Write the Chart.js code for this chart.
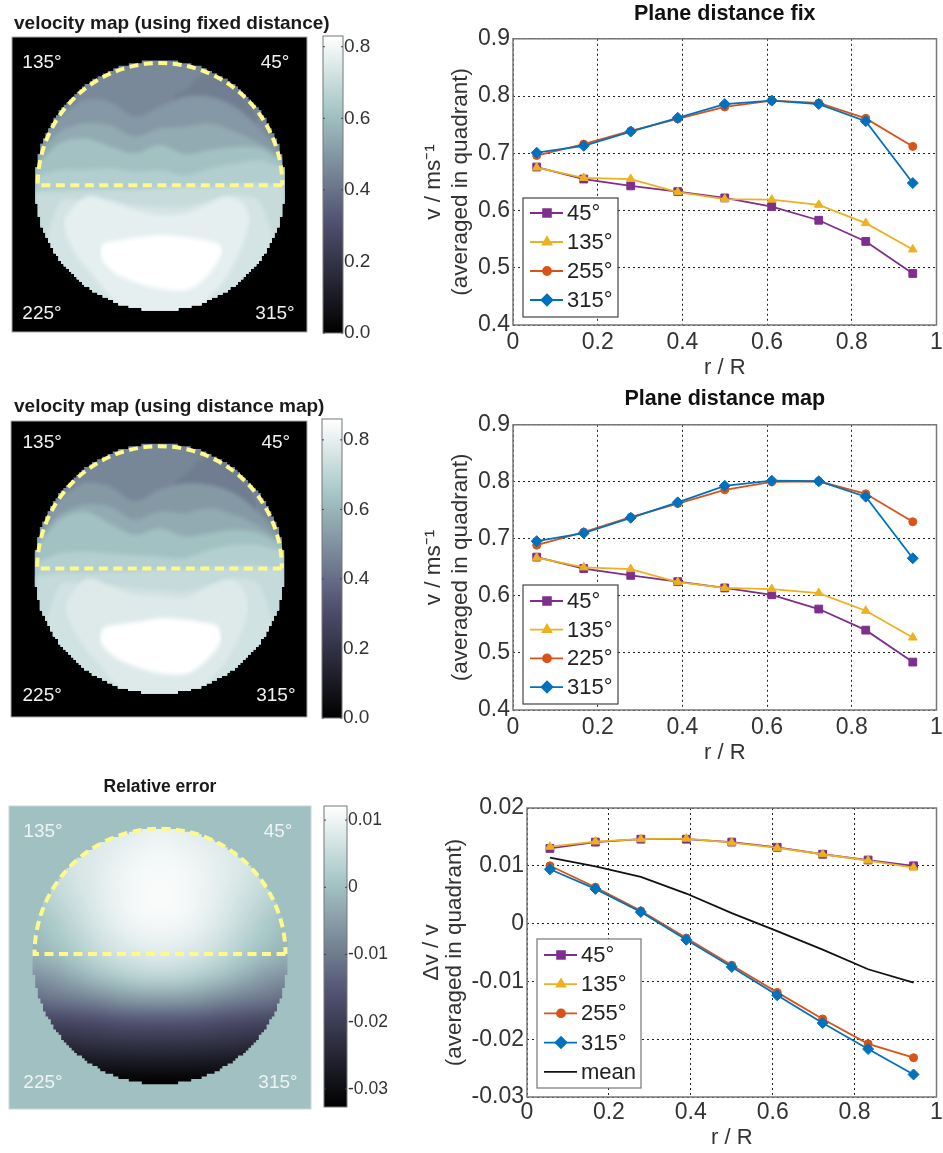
<!DOCTYPE html>
<html>
<head>
<meta charset="utf-8">
<title>Velocity maps</title>
<script src="https://cdn.jsdelivr.net/npm/chart.js@4"></script>
<style>
    html, body { margin: 0; padding: 0; background: #fff; }
    body { position: relative; width: 943px; height: 1153px; overflow: hidden; }
    canvas { position: absolute; }
</style>
</head>
<body>
<canvas id="mapFix" width="335" height="345" style="left:0;top:0"></canvas>
<canvas id="barFix" width="95" height="355" style="left:318px;top:0"></canvas>
<canvas id="lineFix" width="523" height="385" style="left:420px;top:0"></canvas>
<canvas id="mapDist" width="335" height="335" style="left:0;top:390px"></canvas>
<canvas id="barDist" width="95" height="345" style="left:318px;top:390px"></canvas>
<canvas id="lineDist" width="523" height="385" style="left:420px;top:385px"></canvas>
<canvas id="mapErr" width="335" height="345" style="left:0;top:770px"></canvas>
<canvas id="barErr" width="95" height="355" style="left:318px;top:770px"></canvas>
<canvas id="lineErr" width="523" height="373" style="left:420px;top:780px"></canvas>
<script>
// ===========================
// DATA
// ===========================

const radiusRatio = [0.056, 0.167, 0.278, 0.389, 0.5, 0.611, 0.722, 0.833, 0.944];
const rTicks = [0, 0.2, 0.4, 0.6, 0.8, 1];

// Plane distance fix
const fixTicks = [0.4, 0.5, 0.6, 0.7, 0.8, 0.9];
const fixLabels = ['45°', '135°', '255°', '315°'];
const fix45 = [0.676, 0.655, 0.643, 0.633, 0.622, 0.607, 0.583, 0.546, 0.490];
const fix135 = [0.675, 0.657, 0.655, 0.632, 0.620, 0.619, 0.610, 0.578, 0.532];
const fix255 = [0.696, 0.716, 0.739, 0.760, 0.781, 0.792, 0.788, 0.761, 0.712];
const fix315 = [0.701, 0.713, 0.738, 0.762, 0.786, 0.792, 0.786, 0.756, 0.648];

// Plane distance map
const distLabels = ['45°', '135°', '225°', '315°'];
const dist45 = [0.668, 0.648, 0.636, 0.625, 0.614, 0.602, 0.577, 0.540, 0.484];
const dist135 = [0.667, 0.650, 0.647, 0.624, 0.614, 0.612, 0.605, 0.574, 0.527];
const dist225 = [0.689, 0.712, 0.738, 0.762, 0.786, 0.800, 0.801, 0.779, 0.730];
const dist315 = [0.696, 0.710, 0.737, 0.764, 0.793, 0.802, 0.801, 0.774, 0.666];

// Relative error per quadrant
const errTicks = [-0.03, -0.02, -0.01, 0, 0.01, 0.02];
const errLabels = ['45°', '135°', '255°', '315°', 'mean'];
const err45 = [0.0130, 0.0141, 0.0146, 0.0146, 0.0141, 0.0132, 0.0120, 0.0110, 0.0100];
const err135 = [0.0133, 0.0142, 0.0146, 0.0147, 0.0140, 0.0131, 0.0120, 0.0109, 0.0097];
const err255 = [0.0100, 0.0063, 0.0022, -0.0025, -0.0072, -0.0119, -0.0165, -0.0208, -0.0232];
const err315 = [0.0094, 0.0060, 0.0020, -0.0028, -0.0075, -0.0124, -0.0172, -0.0217, -0.0261];
const errMean = [0.0114, 0.0099, 0.0081, 0.0052, 0.0018, -0.0013, -0.0045, -0.0079, -0.0102];

// Colour bars
const fixBarTicks = [0, 0.2, 0.4, 0.6, 0.8];
const fixBarLabels = ['0.0', '0.2', '0.4', '0.6', '0.8'];
const distBarTicks = [0, 0.2, 0.4, 0.6, 0.8];
const distBarLabels = ['0.0', '0.2', '0.4', '0.6', '0.8'];
const errBarTicks = [-0.03, -0.02, -0.01, 0, 0.01];
const errBarLabels = ['-0.03', '-0.02', '-0.01', '0', '0.01'];

const quadrantNames = ['135°', '45°', '225°', '315°'];

// Velocity contours. Circle radius is 375 units, centre is 0,0.
const bandX = [-375, -300, -225, -150, -75, 0, 75, 150, 225, 300, 375];

const fixLevels = [0.46, 0.43, 0.50, 0.55, 0.61, 0.65, 0.70, 0.73, 0.77, 0.77, 0.83, 0.83];
const fixTopY = [400, 400, 400, 400, 400, 400, 400, 400, 400, 400, 400];
const fixDarkX = [40, 80, 110, 150, 200, 250, 290];
const fixDarkY = [266, 286, 321, 341, 331, 276, 206];
const fixEdge2 = [136, 206, 256, 251, 206, 236, 266, 266, 236, 171, 86];
const fixEdge3 = [86, 161, 186, 181, 146, 171, 176, 186, 161, 126, 76];
const fixEdge4 = [56, 126, 141, 116, 96, 121, 94, 106, 116, 111, 66];
const fixEdge5 = [26, 46, 46, 51, 41, 46, 31, 51, 66, 76, 51];
const fixEdge6 = [-19, -19, -14, -14, -14, -9, -4, -4, 1, 6, -4];
const fixEdge7 = [-300, -50, -44, -44, -59, -64, -64, -44, -29, -50, -300];
const fixLightTopX = [-290, -250, -210, -150, -75, 0, 75, 150, 200, 250, 270];
const fixLightTopY = [-104, -54, -32, -49, -74, -89, -84, -54, -34, -54, -104];
const fixLightLowX = [-290, -275, -240, -190, -140, -80, 0, 80, 140, 200, 250, 270];
const fixLightLowY = [-104, -164, -224, -284, -344, -394, -444, -404, -344, -274, -174, -104];
const fixWhiteX = [-180, -170, -130, -60, 0, 80, 130, 170, 188];
const fixWhiteTopY = [-194, -174, -166, -156, -149, -156, -164, -174, -194];
const fixWhiteLowY = [-194, -229, -266, -296, -310, -314, -284, -234, -194];

const distLevels = [0.47, 0.44, 0.52, 0.57, 0.63, 0.68, 0.72, 0.75, 0.78, 0.78, 0.86, 0.86];
const distTopY = [400, 400, 400, 400, 400, 400, 400, 400, 400, 400, 400];
const distDarkX = [40, 80, 110, 150, 200, 250, 290];
const distDarkY = [256, 281, 316, 336, 326, 271, 201];
const distEdge2 = [136, 206, 256, 246, 201, 236, 256, 251, 226, 166, 86];
const distEdge3 = [86, 161, 191, 186, 146, 171, 166, 181, 161, 126, 76];
const distEdge4 = [56, 146, 171, 136, 101, 121, 96, 106, 116, 106, 66];
const distEdge5 = [16, 46, 51, 46, 41, 36, 31, 56, 71, 71, 46];
const distEdge6 = [-24, -14, -14, -9, -9, -4, -4, 1, 6, 6, -4];
const distEdge7 = [-300, -50, -44, -49, -59, -64, -69, -49, -29, -50, -300];
const distLightTopX = [-283, -263, -213, -148, -73, 2, 77, 152, 212, 252, 267];
const distLightTopY = [-114, -74, -29, -54, -79, -84, -89, -54, -34, -64, -114];
const distLightLowX = [-283, -268, -233, -183, -133, -73, 2, 82, 142, 202, 252, 267];
const distLightLowY = [-114, -164, -224, -284, -344, -394, -444, -404, -344, -274, -174, -114];
const distWhiteX = [-180, -168, -128, -58, 2, 82, 132, 172, 187];
const distWhiteTopY = [-209, -179, -169, -159, -149, -154, -162, -172, -209];
const distWhiteLowY = [-209, -234, -269, -299, -314, -316, -284, -239, -209];

// Relative error map in units of 1e-4, rows from top to bottom
const errGridX = [-375, -312.5, -250, -187.5, -125, -62.5, 0, 62.5, 125, 187.5, 250, 312.5, 375];
const errGridY = [375, 312.5, 250, 187.5, 125, 62.5, 0, -62.5, -125, -187.5, -250, -312.5, -375];
const errRow0 = [60, 65, 70, 75, 80, 88, 95, 88, 80, 75, 70, 65, 60];
const errRow1 = [55, 62, 70, 80, 90, 100, 105, 100, 92, 82, 72, 62, 55];
const errRow2 = [45, 55, 68, 82, 97, 108, 112, 108, 98, 85, 70, 55, 45];
const errRow3 = [25, 42, 62, 82, 98, 110, 115, 110, 98, 82, 62, 42, 25];
const errRow4 = [5, 25, 50, 75, 95, 108, 112, 108, 95, 75, 50, 25, 5];
const errRow5 = [-10, 10, 35, 62, 82, 95, 100, 95, 82, 62, 35, 10, -10];
const errRow6 = [-25, -8, 15, 40, 60, 72, 78, 72, 60, 40, 15, -8, -25];
const errRow7 = [-70, -55, -30, -5, 15, 30, 35, 30, 15, -5, -30, -55, -70];
const errRow8 = [-120, -105, -95, -80, -62, -52, -50, -52, -62, -80, -95, -105, -120];
const errRow9 = [-190, -180, -172, -165, -155, -150, -150, -150, -155, -165, -172, -180, -190];
const errRow10 = [-245, -235, -228, -222, -218, -215, -215, -215, -218, -222, -228, -235, -245];
const errRow11 = [-295, -290, -285, -280, -278, -276, -275, -276, -278, -280, -285, -290, -295];
const errRow12 = [-327, -327, -327, -327, -327, -327, -327, -327, -327, -327, -327, -327, -327];

// ===========================
// COLOURS
// ===========================

const boneStops = [[0, 0, 0, 0], [0.375, 81, 81, 113], [0.75, 166, 198, 198], [1, 255, 255, 255]];

function boneRgb(t) {
    t = Math.max(0, Math.min(1, t));
    for (let i = 1; i < boneStops.length; i++) {
        const a = boneStops[i - 1], b = boneStops[i];
        if (t <= b[0]) {
            const f = (t - a[0]) / (b[0] - a[0]);
            return [1, 2, 3].map(k => Math.round(a[k] + f * (b[k] - a[k])));
        }
    }
    return [255, 255, 255];
}

function boneCss(t) {
    return 'rgb(' + boneRgb(t).join(',') + ')';
}

const seriesColors = ['#7E2F8E', '#EDB120', '#D95319', '#0072BD', '#111111'];
const seriesMarkers = ['rect', 'triangle', 'circle', 'rectRot', false];
const markerSizes = [5.5, 5, 4, 5.5, 0];
const FONT = '"Liberation Sans", Arial, sans-serif';

Chart.defaults.font.family = FONT;
Chart.defaults.animation = false;
Chart.defaults.responsive = false;

// ===========================
// PLUGINS
// ===========================

/**
 * Draws the frame and the boxed legend of a line chart
 */
const lineFramePlugin = {
    id: 'lineFrame',
    afterDatasetsDraw(chart, args, opts) {
        const { ctx, chartArea: a } = chart;
        ctx.save();
        ctx.strokeStyle = '#777';
        ctx.lineWidth = 1.5;
        ctx.strokeRect(a.left, a.top, a.right - a.left, a.bottom - a.top);

        ctx.fillStyle = '#fff';
        ctx.fillRect(opts.left, opts.top, opts.width, opts.height);
        ctx.strokeStyle = opts.color;
        ctx.lineWidth = 1.2;
        ctx.strokeRect(opts.left, opts.top, opts.width, opts.height);

        chart.data.datasets.forEach((ds, i) => {
            const y = opts.firstRow + i * opts.rowHeight;
            ctx.strokeStyle = ds.borderColor;
            ctx.lineWidth = 1.8;
            ctx.beginPath();
            ctx.moveTo(opts.left + 7, y);
            ctx.lineTo(opts.left + 40, y);
            ctx.stroke();
            if (ds.pointStyle) {
                ctx.fillStyle = ds.borderColor;
                Chart.helpers.drawPoint(ctx, { pointStyle: ds.pointStyle, radius: ds.pointRadius, rotation: 0, borderWidth: 1 }, opts.left + 24, y);
            }
            ctx.fillStyle = '#222';
            ctx.font = '22px ' + FONT;
            ctx.textAlign = 'left';
            ctx.textBaseline = 'middle';
            ctx.fillText(ds.label, opts.left + 44, y + 1);
        });
        ctx.restore();
    }
};

/**
 * Background, stepped circular clip, heat cells, dashed dome, quadrant names and title of a map
 */
const mapPanelPlugin = {
    id: 'mapPanel',
    beforeDatasetsDraw(chart, args, opts) {
        const { ctx, chartArea: a, scales: { x, y } } = chart;
        ctx.save();
        ctx.fillStyle = opts.background;
        ctx.fillRect(a.left, a.top, a.right - a.left, a.bottom - a.top);

        // the map is a pixel grid, so its rim is stepped
        const cx = x.getPixelForValue(0);
        const cy = y.getPixelForValue(0);
        const r = x.getPixelForValue(375) - cx;
        const step = 2.6;
        const rows = Math.ceil(r / step);
        ctx.beginPath();
        for (let i = -rows; i < rows; i++) {
            const mid = (i + 0.5) * step;
            const half = Math.round(Math.sqrt(Math.max(0, r * r - mid * mid)) / step) * step;
            ctx.rect(cx - half, cy + i * step, half * 2, step + 0.3);
        }
        ctx.clip();

        if (opts.cells) {
            // cells go into a small bitmap, one pixel per cell, the upscale smooths them
            const n = errGridX.length;
            const off = document.createElement('canvas');
            off.width = n;
            off.height = errGridY.length;
            const g = off.getContext('2d');
            opts.cells.forEach((row, r) => row.forEach((v, c) => {
                g.fillStyle = boneCss((v + 327) / 448);
                g.fillRect(c, r, 1, 1);
            }));
            const half = (errGridX[1] - errGridX[0]) / 2;
            const x0 = x.getPixelForValue(errGridX[0] - half);
            const x1 = x.getPixelForValue(errGridX[n - 1] + half);
            const y0 = y.getPixelForValue(errGridY[0] + half);
            const y1 = y.getPixelForValue(errGridY[errGridY.length - 1] - half);
            ctx.imageSmoothingEnabled = true;
            ctx.imageSmoothingQuality = 'high';
            ctx.drawImage(off, x0, y0, x1 - x0, y1 - y0);
        } else {
            // soft contour edges, as in the original map
            ctx.filter = 'blur(2.2px)';
        }
    },
    afterDatasetsDraw(chart, args, opts) {
        const { ctx, chartArea: a, scales: { x, y } } = chart;
        ctx.restore();
        ctx.save();

        // dashed dome over the upper half
        const cx = x.getPixelForValue(0);
        const cy = y.getPixelForValue(opts.domeY);
        const r = x.getPixelForValue(opts.domeRadius) - cx;
        ctx.strokeStyle = '#FDF98C';
        ctx.lineWidth = 4;
        ctx.setLineDash([9, 5.5]);
        ctx.beginPath();
        ctx.moveTo(cx + r, cy);
        ctx.lineTo(cx - r, cy);
        ctx.arc(cx, cy, r, Math.PI, 0);
        ctx.stroke();
        ctx.setLineDash([]);

        ctx.strokeStyle = opts.frame;
        ctx.lineWidth = 1;
        ctx.strokeRect(a.left, a.top, a.right - a.left, a.bottom - a.top);

        ctx.fillStyle = opts.labelColor;
        ctx.font = '19px ' + FONT;
        ctx.textAlign = 'center';
        ctx.textBaseline = 'middle';
        quadrantNames.forEach((name, i) => {
            ctx.fillText(name, x.getPixelForValue(opts.labelX[i]), y.getPixelForValue(opts.labelY[i]));
        });

        ctx.fillStyle = '#1a1a1a';
        ctx.font = 'bold ' + opts.titleSize + 'px ' + FONT;
        ctx.textAlign = opts.titleAlign;
        ctx.fillText(opts.title, opts.titleX, opts.titleY);
        ctx.restore();
    }
};

/**
 * Frame and small ticks of a colour bar
 */
const barFramePlugin = {
    id: 'barFrame',
    afterDatasetsDraw(chart) {
        const { ctx, chartArea: a, scales: { y } } = chart;
        ctx.save();
        ctx.strokeStyle = '#777';
        ctx.lineWidth = 1;
        ctx.strokeRect(a.left, a.top, a.right - a.left, a.bottom - a.top);
        ctx.strokeStyle = '#444';
        y.ticks.forEach(t => {
            const py = y.getPixelForValue(t.value);
            ctx.beginPath();
            ctx.moveTo(a.left, py);
            ctx.lineTo(a.left + 2, py);
            ctx.moveTo(a.right, py);
            ctx.lineTo(a.right - 2, py);
            ctx.stroke();
        });
        ctx.restore();
    }
};

// ===========================
// CHART BUILDERS
// ===========================

/**
 * Line chart with dotted grid
 */
function initLineChart(id, cfg) {
    const datasets = cfg.series.map((values, i) => ({
        label: cfg.labels[i],
        data: values.map((v, k) => ({ x: radiusRatio[k], y: v })),
        borderColor: seriesColors[i],
        backgroundColor: seriesColors[i],
        borderWidth: 1.8,
        pointStyle: seriesMarkers[i],
        pointRadius: markerSizes[i],
        pointBorderWidth: 1,
        order: cfg.series.length - i
    }));

    return new Chart(document.getElementById(id), {
        type: 'line',
        data: { datasets },
        plugins: [lineFramePlugin],
        options: {
            layout: { padding: { top: cfg.top, right: cfg.right, left: 0, bottom: 0 } },
            plugins: {
                legend: { display: false },
                tooltip: { enabled: false },
                title: {
                    display: !!cfg.title,
                    text: cfg.title,
                    color: '#111',
                    fullSize: false,
                    font: { size: 21.5, weight: 'bold' },
                    padding: { top: 0, bottom: cfg.titleBottom }
                },
                lineFrame: cfg.legend
            },
            scales: {
                x: {
                    type: 'linear',
                    min: 0,
                    max: 1,
                    afterBuildTicks: s => { s.ticks = rTicks.map(v => ({ value: v })); },
                    afterFit: s => { s.height = cfg.xHeight; s.paddingLeft = 0; s.paddingRight = 0; },
                    grid: { color: '#222', drawTicks: false },
                    border: { display: false, dash: [2, 3] },
                    ticks: { color: '#333', font: { size: 23 }, padding: cfg.xTickPad, maxRotation: 0, autoSkip: false, callback: v => String(v) },
                    title: { display: true, text: 'r / R', color: '#333', font: { size: 22 }, padding: { top: 0, bottom: cfg.xTitleBottom } }
                },
                y: {
                    min: cfg.min,
                    max: cfg.max,
                    afterBuildTicks: s => { s.ticks = cfg.ticks.map(v => ({ value: v })); },
                    afterFit: s => { s.width = cfg.yWidth; s.paddingTop = 0; s.paddingBottom = 0; },
                    grid: { color: '#222', drawTicks: false },
                    border: { display: false, dash: [2, 3] },
                    ticks: { color: '#333', font: { size: 23 }, padding: 3, autoSkip: false, callback: v => String(v) },
                    title: { display: true, text: cfg.yTitle, color: '#333', font: { size: 22.5, lineHeight: cfg.yTitleLine }, padding: { top: 0, bottom: 0 } }
                }
            }
        }
    });
}

/**
 * Velocity map painted as stacked filled contours, lower ones over upper ones.
 * A contour with a third entry fills down to that dataset, with false it only serves as a target.
 */
function contourSets(contours, levels, maxValue) {
    return contours.map((c, i) => ({
        data: c[0].map((x, k) => ({ x: x, y: c[1][k] })),
        fill: c[2] === undefined ? 'start' : c[2],
        backgroundColor: boneCss(levels[i] / maxValue),
        borderWidth: 0,
        pointRadius: 0,
        tension: 0.3,
        order: contours.length - i
    }));
}

function initMapChart(id, datasets, cfg) {
    return new Chart(document.getElementById(id), {
        type: 'line',
        data: { datasets },
        plugins: [mapPanelPlugin],
        options: {
            layout: { padding: cfg.padding },
            plugins: { legend: { display: false }, tooltip: { enabled: false }, mapPanel: cfg.panel },
            scales: {
                x: { type: 'linear', display: false, min: cfg.x[0], max: cfg.x[1] },
                y: { type: 'linear', display: false, min: cfg.y[0], max: cfg.y[1] }
            }
        }
    });
}

/**
 * Colour bar: a single floating bar with the bone gradient
 */
function initColorBar(id, cfg) {
    return new Chart(document.getElementById(id), {
        type: 'bar',
        data: {
            labels: [''],
            datasets: [{
                data: [[cfg.min, cfg.max]],
                barPercentage: 1,
                categoryPercentage: 1,
                backgroundColor: ctx => {
                    const a = ctx.chart.chartArea;
                    if (!a) return '#888';
                    const grad = ctx.chart.ctx.createLinearGradient(0, a.bottom, 0, a.top);
                    boneStops.forEach(s => grad.addColorStop(s[0], 'rgb(' + s[1] + ',' + s[2] + ',' + s[3] + ')'));
                    return grad;
                }
            }]
        },
        plugins: [barFramePlugin],
        options: {
            layout: { padding: cfg.padding },
            plugins: { legend: { display: false }, tooltip: { enabled: false } },
            scales: {
                x: { display: false },
                y: {
                    position: 'right',
                    min: cfg.min,
                    max: cfg.max,
                    afterBuildTicks: s => { s.ticks = cfg.ticks.map(v => ({ value: v })); },
                    afterFit: s => { s.width = cfg.width; s.paddingTop = 0; s.paddingBottom = 0; },
                    grid: { display: false, drawTicks: false },
                    border: { display: false },
                    ticks: {
                        color: '#333',
                        font: { size: cfg.fontSize },
                        padding: 1,
                        autoSkip: false,
                        callback: (v, i) => cfg.labels[i]
                    }
                }
            }
        }
    });
}

// ===========================
// PAGE
// ===========================

initMapChart('mapFix', contourSets([
    [bandX, fixTopY], [fixDarkX, fixDarkY], [bandX, fixEdge2], [bandX, fixEdge3], [bandX, fixEdge4],
    [bandX, fixEdge5], [bandX, fixEdge6], [bandX, fixEdge7], [fixLightTopX, fixLightTopY, 9],
    [fixLightLowX, fixLightLowY, false], [fixWhiteX, fixWhiteTopY, 11], [fixWhiteX, fixWhiteLowY, false]
], fixLevels, 0.83), {
    padding: { left: 12, top: 37, right: 28, bottom: 13 },
    x: [-444, 441],
    y: [-440, 445],
    panel: {
        background: '#000', frame: '#aaa', labelColor: '#f2f2f2', domeY: 0, domeRadius: 367,
        labelX: [-354, 345, -354, 345], labelY: [369, 369, -384, -384],
        title: 'velocity map (using fixed distance)', titleSize: 19, titleAlign: 'left', titleX: 14, titleY: 24
    }
});

initMapChart('mapDist', contourSets([
    [bandX, distTopY], [distDarkX, distDarkY], [bandX, distEdge2], [bandX, distEdge3], [bandX, distEdge4],
    [bandX, distEdge5], [bandX, distEdge6], [bandX, distEdge7], [distLightTopX, distLightTopY, 9],
    [distLightLowX, distLightLowY, false], [distWhiteX, distWhiteTopY, 11], [distWhiteX, distWhiteLowY, false]
], distLevels, 0.86), {
    padding: { left: 11, top: 31, right: 28, bottom: 8 },
    x: [-445.5, 442.5],
    y: [-445.5, 442.5],
    panel: {
        background: '#000', frame: '#aaa', labelColor: '#f2f2f2', domeY: 0, domeRadius: 367,
        labelX: [-352, 349, -352, 349], labelY: [376, 376, -382, -382],
        title: 'velocity map (using distance map)', titleSize: 19, titleAlign: 'left', titleX: 14, titleY: 17
    }
});

const errCells = [errRow0, errRow1, errRow2, errRow3, errRow4, errRow5, errRow6, errRow7, errRow8, errRow9, errRow10, errRow11, errRow12];
initMapChart('mapErr', [{ data: [] }], {
    padding: { left: 9, top: 36, right: 24, bottom: 6 },
    x: [-444, 444],
    y: [-448.4, 442.5],
    panel: {
        background: boneCss(327 / 448), frame: '#c8d6d6', labelColor: '#eef3f3', domeY: 7, domeRadius: 369, cells: errCells,
        labelX: [-344, 347, -344, 347], labelY: [366, 366, -372, -372],
        title: 'Relative error', titleSize: 17.5, titleAlign: 'center', titleX: 160, titleY: 17
    }
});

initColorBar('barFix', { min: 0, max: 0.83, ticks: fixBarTicks, labels: fixBarLabels, fontSize: 19, width: 70, padding: { left: 5, top: 36, right: 0, bottom: 22 } });
initColorBar('barDist', { min: 0, max: 0.86, ticks: distBarTicks, labels: distBarLabels, fontSize: 19, width: 71, padding: { left: 4, top: 29, right: 0, bottom: 17 } });
initColorBar('barErr', { min: -0.0327, max: 0.0121, ticks: errBarTicks, labels: errBarLabels, fontSize: 17.5, width: 66, padding: { left: 6, top: 36, right: 0, bottom: 18 } });

initLineChart('lineFix', {
    series: [fix45, fix135, fix255, fix315],
    labels: fixLabels,
    title: 'Plane distance fix',
    titleBottom: 12,
    yTitle: ['v / ms⁻¹', '(averaged in quadrant)'],
    yTitleLine: 1.2,
    min: 0.4, max: 0.9, ticks: fixTicks,
    top: 1, right: 4, yWidth: 93, xHeight: 60, xTitleBottom: 4, xTickPad: 4,
    legend: { left: 103, top: 198, width: 95, height: 119, firstRow: 213, rowHeight: 29, color: '#444' }
});

initLineChart('lineDist', {
    series: [dist45, dist135, dist225, dist315],
    labels: distLabels,
    title: 'Plane distance map',
    titleBottom: 13,
    yTitle: ['v / ms⁻¹', '(averaged in quadrant)'],
    yTitleLine: 1.2,
    min: 0.4, max: 0.9, ticks: fixTicks,
    top: 1, right: 4, yWidth: 93, xHeight: 60, xTitleBottom: 4, xTickPad: 4,
    legend: { left: 103, top: 200, width: 95, height: 119, firstRow: 216, rowHeight: 28.7, color: '#444' }
});

initLineChart('lineErr', {
    series: [err45, err135, err255, err315, errMean],
    labels: errLabels,
    title: '',
    titleBottom: 0,
    yTitle: ['Δv / v', '(averaged in quadrant)'],
    yTitleLine: 1.02,
    min: -0.03, max: 0.02, ticks: errTicks,
    top: 28, right: 2, yWidth: 107, xHeight: 56, xTitleBottom: 2, xTickPad: 2,
    legend: { left: 117, top: 159, width: 104, height: 149, firstRow: 175, rowHeight: 29.2, color: '#777' }
});
</script>
</body>
</html>
